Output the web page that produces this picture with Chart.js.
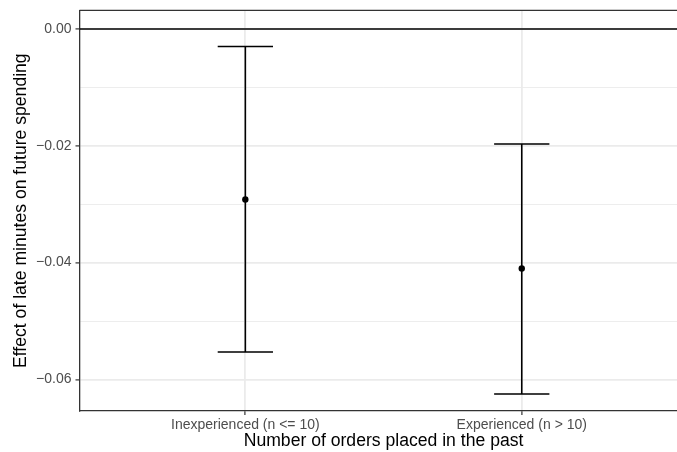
<!DOCTYPE html>
<html>
<head>
<meta charset="utf-8">
<script src="https://cdn.jsdelivr.net/npm/chart.js@4"></script>
<style>
  html, body { margin: 0; padding: 0; background: #fff; }
  /* the reference is cropped on the right: panel runs past the edge */
  #wrap { width: 677px; height: 452px; overflow: hidden; }
  canvas { display: block; }
</style>
</head>
<body>
<div id="wrap"><canvas id="chart" width="698" height="452"></canvas></div>
<script>
'use strict';

// Data
const groups = ['Inexperienced (n <= 10)', 'Experienced (n > 10)'];
const estimates = [-0.0292, -0.0410];
const lowerCI = [-0.0553, -0.0625];
const upperCI = [-0.0030, -0.0197];
const yTickValues = [-0.06, -0.05, -0.04, -0.03, -0.02, -0.01, 0.00];
const yMajorTicks = [-0.06, -0.04, -0.02, 0.00];

const FONT = '"Liberation Sans", Arial, Helvetica, sans-serif';
const CAP_HALF = 0.1;

function isMajor(v) {
  return yMajorTicks.some(m => Math.abs(m - v) < 1e-9);
}

const errorBars = {
  id: 'errorBars',
  beforeDatasetsDraw(chart) {
    const { ctx, chartArea, scales: { x, y } } = chart;
    ctx.save();
    ctx.beginPath();
    ctx.rect(chartArea.left, chartArea.top, chartArea.right - chartArea.left, chartArea.bottom - chartArea.top);
    ctx.clip();

    // zero reference line
    ctx.strokeStyle = '#000';
    ctx.lineWidth = 1.6;
    const y0 = y.getPixelForValue(0);
    ctx.beginPath();
    ctx.moveTo(chartArea.left, y0);
    ctx.lineTo(chartArea.right, y0);
    ctx.stroke();

    // error bars
    groups.forEach((g, i) => {
      const cx = x.getPixelForValue(i + 1);
      const xl = x.getPixelForValue(i + 1 - CAP_HALF);
      const xr = x.getPixelForValue(i + 1 + CAP_HALF);
      const yl = y.getPixelForValue(lowerCI[i]);
      const yu = y.getPixelForValue(upperCI[i]);
      ctx.beginPath();
      ctx.moveTo(cx, yl); ctx.lineTo(cx, yu);
      ctx.moveTo(xl, yl); ctx.lineTo(xr, yl);
      ctx.moveTo(xl, yu); ctx.lineTo(xr, yu);
      ctx.stroke();
    });
    ctx.restore();

    // panel border (top and right; bottom/left come from the axes)
    ctx.save();
    ctx.strokeStyle = '#333';
    ctx.lineWidth = 1.3;
    ctx.beginPath();
    ctx.moveTo(chartArea.left, chartArea.top);
    ctx.lineTo(chartArea.right, chartArea.top);
    ctx.lineTo(chartArea.right, chartArea.bottom);
    ctx.stroke();
    ctx.restore();
  }
};

new Chart(document.getElementById('chart').getContext('2d'), {
  type: 'scatter',
  data: {
    datasets: [{
      data: estimates.map((v, i) => ({ x: i + 1, y: v })),
      pointRadius: 3.2,
      pointBackgroundColor: '#000',
      pointBorderColor: '#000',
      pointBorderWidth: 0
    }]
  },
  options: {
    responsive: false,
    animation: false,
    layout: { autoPadding: false, padding: { top: 10.3, right: 10.4, bottom: 0, left: 0 } },
    plugins: {
      legend: { display: false },
      tooltip: { enabled: false }
    },
    scales: {
      x: {
        type: 'linear',
        min: 0.4,
        max: 2.6,
        afterBuildTicks: s => { s.ticks = groups.map((g, i) => ({ value: i + 1 })); },
        afterFit: s => { s.height = 41; s.paddingLeft = 0; s.paddingRight = 0; },
        grid: {
          color: '#ebebeb',
          lineWidth: 1.8,
          tickColor: '#333',
          tickLength: 4,
          tickWidth: 1.2
        },
        border: { display: true, color: '#333', width: 1.3 },
        ticks: {
          color: '#4d4d4d',
          font: { family: FONT, size: 14 },
          padding: 2,
          maxRotation: 0,
          autoSkip: false,
          callback: v => groups[Math.round(v) - 1] || ''
        },
        title: {
          display: true,
          text: 'Number of orders placed in the past',
          color: '#000',
          font: { family: FONT, size: 17.6 },
          padding: { top: 0, bottom: 0 }
        }
      },
      y: {
        type: 'linear',
        min: -0.0654,
        max: 0.0032,
        afterBuildTicks: s => { s.ticks = yTickValues.map(v => ({ value: v })); },
        afterFit: s => { s.width = 79.5; s.paddingTop = 0; s.paddingBottom = 0; },
        grid: {
          color: '#ebebeb',
          lineWidth: c => isMajor(c.tick.value) ? 1.8 : 0.9,
          tickColor: c => isMajor(c.tick.value) ? '#333' : 'rgba(0,0,0,0)',
          tickLength: 4,
          tickWidth: 1.2
        },
        border: { display: true, color: '#333', width: 1.3 },
        ticks: {
          color: '#4d4d4d',
          font: { family: FONT, size: 14 },
          padding: 4,
          autoSkip: false,
          callback: v => isMajor(v) ? v.toFixed(2).replace('-', '\u2212') : ''
        },
        title: {
          display: true,
          text: 'Effect of late minutes on future spending',
          color: '#000',
          font: { family: FONT, size: 17.6 },
          padding: { top: 11, bottom: 0 }
        }
      }
    }
  },
  plugins: [errorBars]
});
</script>
</body>
</html>
